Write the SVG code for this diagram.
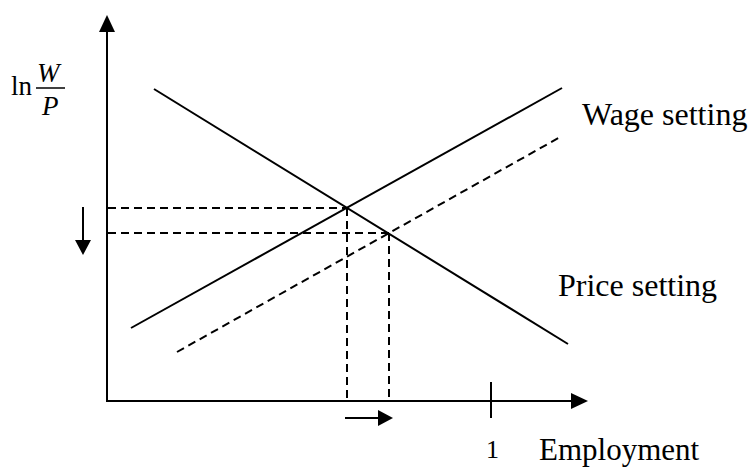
<svg xmlns="http://www.w3.org/2000/svg" width="753" height="469" viewBox="0 0 753 469">
<defs>
<style>
.ln{stroke:#000;stroke-width:2;fill:none}
.ds{stroke:#000;stroke-width:2;fill:none;stroke-dasharray:8,5}
.hd{fill:#000;stroke:none}
.t{font-family:"Liberation Serif","Times New Roman",serif;fill:#000}
</style>
</defs>
<rect width="753" height="469" fill="#fff"/>
<g id="axes">
<line class="ln" x1="107" y1="401" x2="107" y2="30"/>
<polygon class="hd" points="107,15 99,32 115,32"/>
<line class="ln" x1="106" y1="401" x2="573" y2="401"/>
<polygon class="hd" points="588,401 571,393 571,409"/>
<line class="ln" x1="491" y1="382" x2="491" y2="418"/>
</g>
<g id="connectors">
<line class="ln" x1="131" y1="328" x2="562" y2="88"/>
<line class="ds" x1="177" y1="352" x2="562" y2="136"/>
<line class="ln" x1="154" y1="89" x2="568" y2="344"/>
<line class="ds" x1="108" y1="208" x2="347" y2="208"/>
<line class="ds" x1="108" y1="233" x2="389" y2="233"/>
<line class="ds" x1="347" y1="208" x2="347" y2="400"/>
<line class="ds" x1="389" y1="233" x2="389" y2="400"/>
<line class="ln" x1="83" y1="207" x2="83" y2="242"/>
<polygon class="hd" points="83,255 75,240 91,240"/>
<line class="ln" x1="345" y1="418" x2="380" y2="418"/>
<polygon class="hd" points="393,418 378,410 378,426"/>
</g>
<g id="ylabel">
<text class="t" x="11" y="95" font-size="27">ln</text>
<text class="t" x="37" y="82" font-size="27" font-style="italic">W</text>
<line x1="36" y1="88" x2="65" y2="88" stroke="#000" stroke-width="1.5"/>
<text class="t" x="42" y="115" font-size="27" font-style="italic">P</text>
</g>
<g id="wage-label"><text class="t" x="582" y="125" font-size="32">Wage setting</text></g>
<g id="price-label"><text class="t" x="558" y="296" font-size="32">Price setting</text></g>
<g id="one-label"><text class="t" x="486" y="458" font-size="26">1</text></g>
<g id="emp-label"><text class="t" x="539" y="460" font-size="31">Employment</text></g>
</svg>
